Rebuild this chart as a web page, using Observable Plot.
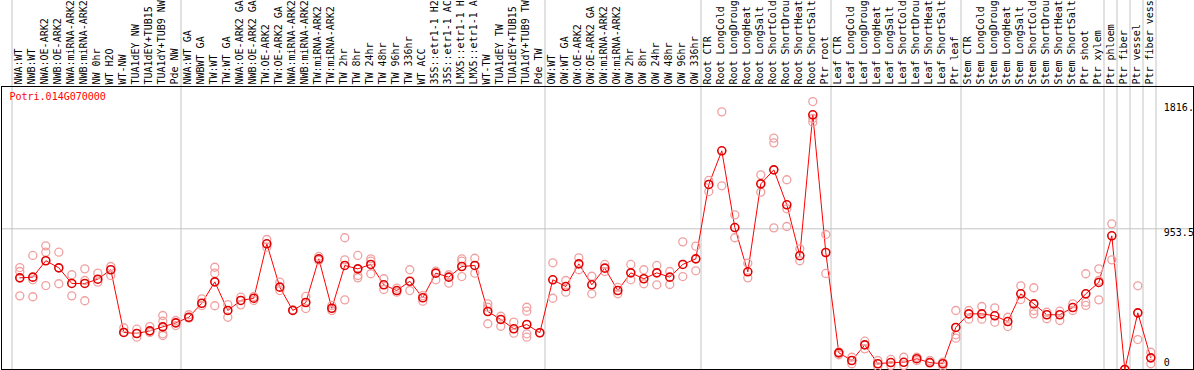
<!DOCTYPE html>
<html>
<head>
<meta charset="utf-8">
<script src="https://cdn.jsdelivr.net/npm/d3@7"></script>
<script src="https://cdn.jsdelivr.net/npm/@observablehq/plot@0.6"></script>
<style>
  html, body { margin: 0; padding: 0; background: #fff; }
  #chart svg { display: block; }
</style>
</head>
<body>
<div id="chart"></div>
<script>
const title = "Potri.014G070000";

const categories = [
  "NWA:WT","NWB:WT","NWA:OE-ARK2","NWB:OE-ARK2","NWA:miRNA-ARK2","NWB:miRNA-ARK2","NW 0hr","WT H2O","WT-NW","TUA1dEY NW","TUA1dEY+TUB15","TUA1dY+TUB9 NW","Pde NW",
  "NWA:WT GA","NWBWT GA","TW:WT","TW:WT GA","NWA:OE-ARK2 GA","NWB:OE-ARK2 GA","TW:OE-ARK2","TW:OE-ARK2 GA","NWA:miRNA-ARK2","NWB:miRNA-ARK2","TW:miRNA-ARK2","TW:miRNA-ARK2",
  "TW 2hr","TW 8hr","TW 24hr","TW 48hr","TW 96hr","TW 336hr","WT ACC","35S::etr1-1 H2","35S::etr1-1 AC","LMX5::etr1-1 H","LMX5::etr1-1 A","WT-TW","TUA1dEY TW","TUA1dEY+TUB15","TUA1dY+TUB9 TW","Pde TW",
  "OW:WT","OW:WT GA","OW:OE-ARK2","OW:OE-ARK2 GA","OW:miRNA-ARK2","OW:miRNA-ARK2","OW 2hr","OW 8hr","OW 24hr","OW 48hr","OW 96hr","OW 336hr",
  "Root CTR","Root LongCold","Root LongDroug","Root LongHeat","Root LongSalt","Root ShortCold","Root ShortDrou","Root ShortHeat","Root ShortSalt","Ptr root",
  "Leaf CTR","Leaf LongCold","Leaf LongDroug","Leaf LongHeat","Leaf LongSalt","Leaf ShortCold","Leaf ShortDrou","Leaf ShortHeat","Leaf ShortSalt","Ptr leaf",
  "Stem CTR","Stem LongCold","Stem LongDroug","Stem LongHeat","Stem LongSalt","Stem ShortCold","Stem ShortDrou","Stem ShortHeat","Stem ShortSalt","Ptr shoot","Ptr xylem",
  "Ptr phloem","Ptr fiber","Ptr vessel","Ptr fiber vess"
];

// index of the first category of each group (grey separators)
const groupStarts = [0, 13, 41, 53, 63, 73, 84, 85, 86, 87, 88];

const means = [
  621,626,737,689,583,583,612,676,251,244,262,289,316,
  354,449,594,400,468,483,852,558,400,454,750,415,705,682,712,574,535,598,486,653,626,698,705,393,339,276,305,249,
  608,562,716,574,687,535,655,615,655,626,712,750,
  1254,1482,962,662,1258,1353,1116,771,1726,793,
  113,61,167,39,47,49,73,47,39,285,
  377,377,364,325,513,445,371,371,420,513,590,
  906,0,384,79
];

const replicates = [
  [691,664,499],[773,608,493],[838,795,569],[795,581],[642,499],[682,603,466],[653,592],[698,637],[283,251],[273,219],[291,251],[366,327,242,230],[332,298],
  [371,348],[479,434],[693,653,432],[440,354],[490,438],[495,468],[881,829],[592,535],[405],[495,413],[766,739],[434,400],[893,743,472],[773,637,621],[750,734,649],[615,542],[551,524],[676,535],[501,463],[666,608],[642,585],[750,734,630],[754,653],[445,422,310],[361,293],[321,246],[422,395,242,219],[249],
  [723,483],[603,524],[757,676],[632,513],[712,664],[556,513],[712,608],[676,581],[705,574],[664,576],[865,630],[836,669],
  [1281,1206],[1746,1245],[1048,893],[720,621],[1319,1202],[1568,1536,960],[1286,1089,969],[818,737],[1816,1701,1676],[915,651],
  [120,100],[83,39],[192,140],[61,20],[68,27],[83,27],[83,61],[61,43],[49,22],[400,235,212],
  [400,341],[427,341],[418,321],[354,291],[567,474],[554,400,377],[388,344],[395,332],[445,400],[649,456,434],[682,603,472],
  [987,743],[0],[567,203],[117,39]
];

const yTickValues = [1816, 953.5, 0];
const yTickLabels = ["1816.", "953.5", "0"];

const repPoints = replicates.flatMap((arr, i) => arr.map(v => ({i, v})));
const meanPoints = means.map((v, i) => ({i, v}));

const mono = "DejaVu Sans Mono";
const n = categories.length;

const chart = Plot.plot({
  width: 1194,
  height: 370,
  marginTop: 86,
  marginBottom: 1,
  marginLeft: 1,
  marginRight: 1,
  style: {fontFamily: mono, fontSize: "10px", background: "white", overflow: "visible"},
  x: {type: "linear", domain: [0, n - 1], range: [19.3, 19.3 + 13 * (n - 1)], axis: null},
  y: {type: "linear", domain: [0, 953.5], range: [369, 228.3], axis: null},
  marks: [
    Plot.ruleX(groupStarts, {x: d => d - 0.6, stroke: "#c4c4c4", strokeWidth: 1, insetTop: -86}),
    Plot.ruleY([yTickValues[1]], {stroke: "#c4c4c4", strokeWidth: 1}),
    Plot.frame({stroke: "black", strokeWidth: 1}),
    Plot.line(meanPoints, {x: "i", y: "v", stroke: "#ff0000", strokeWidth: 1}),
    Plot.dot(repPoints, {x: "i", y: "v", r: 4, stroke: "#f0a0a0", strokeWidth: 1.3, fill: "none"}),
    Plot.dot(meanPoints, {x: "i", y: "v", r: 4, stroke: "#e00000", strokeWidth: 1.6, fill: "none"}),
    Plot.text(categories, {
      x: (d, i) => i, frameAnchor: "top", text: d => d,
      rotate: -90, textAnchor: "start", lineAnchor: "middle",
      dx: -1, dy: -2, fill: "black", fontFamily: mono, fontSize: 10
    }),
    Plot.text([title], {frameAnchor: "top-left", textAnchor: "start", lineAnchor: "top", dx: 8, dy: 6, fill: "#ff0000", fontFamily: mono, fontSize: 10}),
    Plot.text([0], {x: () => n, y: () => yTickValues[0], text: () => yTickLabels[0], textAnchor: "start", dy: 6, fill: "black"}),
    Plot.text([1], {x: () => n, y: () => yTickValues[1], text: () => yTickLabels[1], textAnchor: "start", dy: 4, fill: "black"}),
    Plot.text([2], {x: () => n, y: () => yTickValues[2], text: () => yTickLabels[2], textAnchor: "start", dy: -7, fill: "black"})
  ]
});

document.getElementById("chart").appendChild(chart);
</script>
</body>
</html>
